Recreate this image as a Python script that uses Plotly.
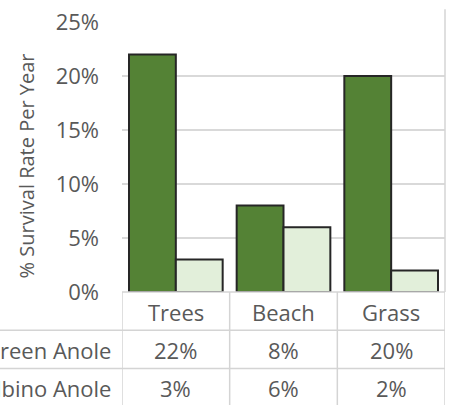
import plotly.graph_objects as go

categories = ["Trees", "Beach", "Grass"]
green_anole = [0.22, 0.08, 0.20]
albino_anole = [0.03, 0.06, 0.02]
series_names = ["Green Anole", "Albino Anole"]
y_ticks = [0, 0.05, 0.10, 0.15, 0.20, 0.25]

FONT = "Open Sans"
TXT = "#595959"
GRID = "#d9d9d9"
W, H = 451, 405
L, R, T, B = 122, 6, 19, 113
pw, ph = W - L - R, H - T - B

def px_x(x):
    return (x - L) / pw

def px_y(y):
    return (H - B - y) / ph

fig = go.Figure()
fig.add_bar(x=categories, y=green_anole, name=series_names[0],
            marker=dict(color="#548235", line=dict(color="#262626", width=2)))
fig.add_bar(x=categories, y=albino_anole, name=series_names[1],
            marker=dict(color="#E2EFDA", line=dict(color="#262626", width=2)))

shapes = []
line = dict(color="#d4d4d4", width=1.5)
# table top border
shapes.append(dict(type="line", xref="paper", yref="paper", x0=0, x1=1,
                   y0=0, y1=0, line=line))
# row separators
for yp in [330.7, 369.3]:
    shapes.append(dict(type="line", xref="paper", yref="paper", x0=px_x(0), x1=1,
                       y0=px_y(yp), y1=px_y(yp), line=line))
# vertical column separators
for i in range(len(categories) + 1):
    shapes.append(dict(type="line", xref="x", yref="paper", x0=i - 0.5, x1=i - 0.5,
                       y0=0, y1=px_y(H + 2), line=line))
# chart right border
shapes.append(dict(type="line", xref="paper", yref="paper", x0=1, x1=1,
                   y0=px_y(6), y1=0, line=line))

ann = []
for i, c in enumerate(categories):
    ann.append(dict(x=c, xref="x", y=px_y(312), yref="paper", text=c, showarrow=False,
                    font=dict(family=FONT, size=22, color=TXT), xanchor="center", yanchor="middle"))
    ann.append(dict(x=c, xref="x", y=px_y(351), yref="paper", text=f"{round(green_anole[i]*100)}%",
                    showarrow=False, font=dict(family=FONT, size=22, color=TXT),
                    xanchor="center", yanchor="middle"))
    ann.append(dict(x=c, xref="x", y=px_y(389), yref="paper", text=f"{round(albino_anole[i]*100)}%",
                    showarrow=False, font=dict(family=FONT, size=22, color=TXT),
                    xanchor="center", yanchor="middle"))
for name, yp in zip(series_names, [351, 389]):
    ann.append(dict(x=px_x(113), xref="paper", y=px_y(yp), yref="paper", text=name,
                    showarrow=False, font=dict(family=FONT, size=22, color=TXT),
                    xanchor="right", yanchor="middle"))
ann.append(dict(x=px_x(26), xref="paper", y=px_y(165), yref="paper",
                text="% Survival Rate Per Year", textangle=-90, showarrow=False,
                font=dict(family=FONT, size=20, color=TXT), xanchor="center", yanchor="middle"))

fig.update_layout(
    width=W, height=H,
    margin=dict(l=L, r=R, t=T, b=B, pad=0),
    paper_bgcolor="white", plot_bgcolor="white",
    barmode="group", bargap=0.13, bargroupgap=0,
    showlegend=False,
    shapes=shapes, annotations=ann,
    xaxis=dict(showticklabels=False, showgrid=False, zeroline=False, showline=False,
               range=[-0.5, 2.5]),
    yaxis=dict(range=[0, 0.25], tickvals=y_ticks, tickformat=".0%",
               gridcolor=GRID, gridwidth=1.5, zeroline=False, showline=False,
               ticklabelstandoff=22,
               tickfont=dict(family=FONT, size=22, color=TXT)),
)
fig.write_html("out.html")
